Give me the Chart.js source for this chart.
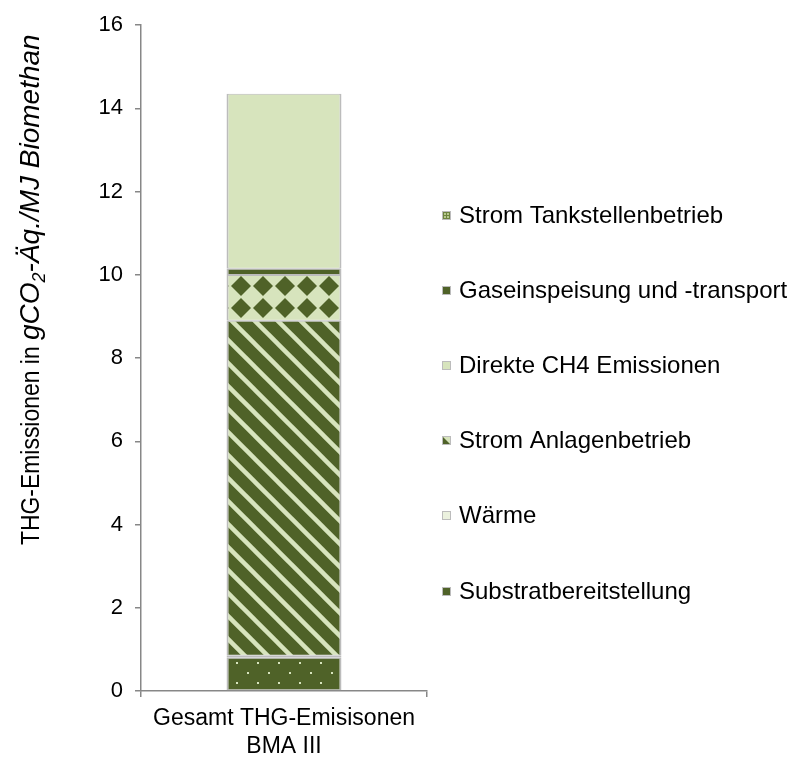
<!DOCTYPE html>
<html>
<head>
<meta charset="utf-8">
<script src="https://cdn.jsdelivr.net/npm/chart.js@4.4.0/dist/chart.umd.min.js"></script>
<style>
html, body { margin: 0; padding: 0; background: #fff; }
</style>
</head>
<body>
<canvas id="myChart" width="787" height="757"></canvas>
<script>
// Data
const categories = [['Gesamt THG-Emisisonen', 'BMA III']];
const seriesNames = [
    'Substratbereitstellung',
    'Wärme',
    'Strom Anlagenbetrieb',
    'Direkte CH4 Emissionen',
    'Gaseinspeisung und -transport',
    'Strom Tankstellenbetrieb',
];
const substrat = [0.8];
const waerme = [0.05];
const stromAnlagen = [8.05];
const direkteCH4 = [1.1];
const gaseinspeisung = [0.15];
const stromTankstellen = [4.2];
const yTicks = [0, 2, 4, 6, 8, 10, 12, 14, 16];

const FONT = "'Liberation Sans', Arial, sans-serif";
const dark = '#4f6228';
const light = '#d7e4bd';
const lighter = '#ebf1de';
const edge = '#bcbcbc';
const axisGray = '#878787';

// Patterns
const pctx = document.createElement('canvas').getContext('2d');
function makePattern(w, h, draw) {
    const c = document.createElement('canvas');
    c.width = w;
    c.height = h;
    draw(c.getContext('2d'), w, h);
    return pctx.createPattern(c, 'repeat');
}

const dotsPattern = makePattern(21, 20, (g, w, h) => {
    g.fillStyle = dark;
    g.fillRect(0, 0, w, h);
    g.fillStyle = '#d7e4bd';
    g.fillRect(5, 2, 2, 2);
    g.fillRect(16, 12, 2, 2);
});

const stripePattern = makePattern(23, 23, (g, w, h) => {
    g.fillStyle = dark;
    g.fillRect(0, 0, w, h);
    g.strokeStyle = light;
    g.lineWidth = 4.5;
    for (let k = -2; k <= 2; k++) {
        g.beginPath();
        g.moveTo(k * w + 3 - 5, -5);
        g.lineTo(k * w + 3 + w + 5, h + 5);
        g.stroke();
    }
});

const diamondPattern = makePattern(22, 22, (g, w, h) => {
    g.fillStyle = light;
    g.fillRect(0, 0, w, h);
    g.fillStyle = dark;
    const r = 10;
    for (let i = -1; i <= 1; i++) {
        for (let j = -1; j <= 1; j++) {
            const cx = 21 + i * w, cy = 0 + j * h;
            g.beginPath();
            g.moveTo(cx, cy - r);
            g.lineTo(cx + r, cy);
            g.lineTo(cx, cy + r);
            g.lineTo(cx - r, cy);
            g.closePath();
            g.fill();
        }
    }
});

const border = { top: 1, bottom: 1, left: 2, right: 2 };

const data = {
    labels: categories,
    datasets: [
        { label: seriesNames[0], data: substrat, backgroundColor: dotsPattern },
        { label: seriesNames[1], data: waerme, backgroundColor: lighter },
        { label: seriesNames[2], data: stromAnlagen, backgroundColor: stripePattern },
        { label: seriesNames[3], data: direkteCH4, backgroundColor: diamondPattern },
        { label: seriesNames[4], data: gaseinspeisung, backgroundColor: dark },
        { label: seriesNames[5], data: stromTankstellen, backgroundColor: light },
    ].map(ds => Object.assign(ds, {
        borderColor: edge,
        borderWidth: border,
        borderSkipped: false,
        barPercentage: 0.402,
        categoryPercentage: 1,
    }))
};

// legend icons as seen in the reference
function drawIcon(g, i, x, y) {
    const s = 9;
    if (i === 5) {
        g.fillStyle = '#6f8540';
        g.fillRect(x, y, s, s);
        g.fillStyle = '#b7c98f';
        g.fillRect(x + 2, y + 2, 2, 2);
        g.fillRect(x + 5, y + 2, 2, 2);
        g.fillRect(x + 2, y + 5, 2, 2);
        g.fillRect(x + 5, y + 5, 2, 2);
    } else if (i === 4 || i === 0) {
        g.fillStyle = dark;
        g.fillRect(x, y, s, s);
    } else if (i === 3) {
        g.fillStyle = light;
        g.fillRect(x, y, s, s);
    } else if (i === 2) {
        g.fillStyle = dark;
        g.fillRect(x, y, s, s);
        g.fillStyle = light;
        g.beginPath();
        g.moveTo(x, y);
        g.lineTo(x + s, y);
        g.lineTo(x + s, y + s);
        g.closePath();
        g.fill();
    } else {
        g.fillStyle = lighter;
        g.fillRect(x, y, s, s);
    }
    g.strokeStyle = edge;
    g.lineWidth = 1;
    g.strokeRect(x + 0.5, y + 0.5, s - 1, s - 1);
}

const sideLegend = {
    id: 'sideLegend',
    afterDraw(chart) {
        const g = chart.ctx;
        g.save();
        g.font = '24px ' + FONT;
        g.textBaseline = 'middle';
        const order = [5, 4, 3, 2, 1, 0];
        order.forEach((idx, k) => {
            const cy = 215 + k * 75.2;
            drawIcon(g, idx, 442, Math.round(cy - 4.5));
            g.fillStyle = '#000';
            g.fillText(chart.data.datasets[idx].label, 459, cy + 1);
        });
        g.restore();
    }
};

// y axis title: condensed plain part, then italic unit with subscript
const yTitle = {
    id: 'yTitle',
    afterDraw(chart) {
        const g = chart.ctx;
        const parts = [
            { t: 'THG-Emissionen in ', f: '26px ' + FONT, dy: 0, fit: 205 },
            { t: 'gCO', f: 'italic 28px ' + FONT, dy: 0 },
            { t: '2', f: 'italic 18px ' + FONT, dy: 6 },
            { t: '-Äq./MJ Biomethan', f: 'italic 28px ' + FONT, dy: 0 },
        ];
        g.save();
        g.translate(39, 545);
        g.rotate(-Math.PI / 2);
        g.fillStyle = '#000';
        g.textBaseline = 'alphabetic';
        let x = 0;
        parts.forEach(p => {
            g.font = p.f;
            const w = g.measureText(p.t).width;
            if (p.fit) {
                g.save();
                g.translate(x, p.dy);
                g.scale(p.fit / w, 1);
                g.fillText(p.t, 0, 0);
                g.restore();
                x += p.fit;
            } else {
                g.fillText(p.t, x, p.dy);
                x += w;
            }
        });
        g.restore();
    }
};

const options = {
    responsive: false,
    animation: false,
    layout: {
        padding: { left: 0, right: 360, top: 15, bottom: 0 }
    },
    plugins: {
        legend: { display: false },
        tooltip: { enabled: false }
    },
    scales: {
        x: {
            stacked: true,
            afterFit: scale => { scale.height = 66; },
            grid: {
                drawOnChartArea: false,
                tickLength: 6,
                color: axisGray,
                lineWidth: 1.5,
                offset: true,
            },
            border: { color: axisGray, width: 1.5 },
            ticks: {
                color: '#000',
                font: { family: FONT, size: 23 },
                padding: 8,
                maxRotation: 0,
            }
        },
        y: {
            stacked: true,
            min: 0,
            max: 16,
            afterFit: scale => { scale.width = 141; },
            afterBuildTicks: scale => { scale.ticks = yTicks.map(v => ({ value: v })); },
            grid: {
                drawOnChartArea: false,
                tickLength: 6,
                color: axisGray,
                lineWidth: 1.5,
            },
            border: { color: axisGray, width: 1.5 },
            ticks: {
                color: '#000',
                font: { family: FONT, size: 22 },
                padding: 12,
            }
        }
    }
};

const myChart = new Chart(
    document.getElementById('myChart'),
    { type: 'bar', data, options, plugins: [sideLegend, yTitle] }
);
</script>
</body>
</html>
